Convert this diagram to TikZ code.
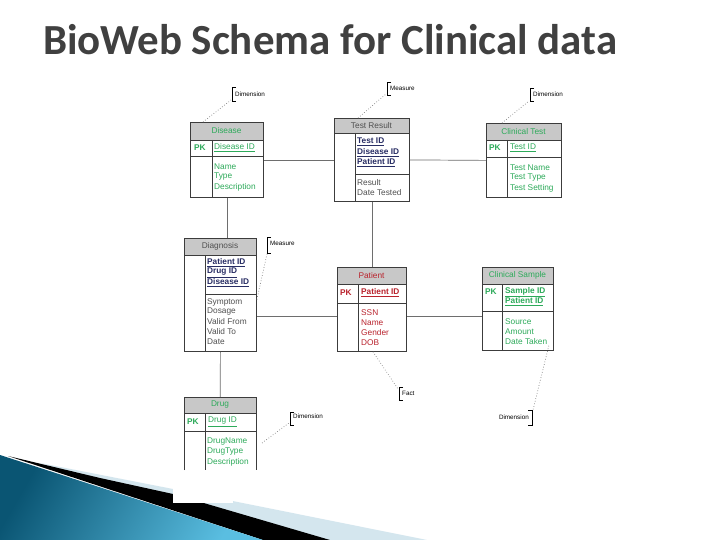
\documentclass[tikz,border=0pt]{standalone}
\usepackage{fontspec}
\setmainfont{Liberation Sans}
\newfontfamily\titlefont{Carlito}
\definecolor{boxc}{RGB}{60,60,60}
\definecolor{hdrc}{RGB}{200,200,200}
\definecolor{connc}{RGB}{110,110,110}
\definecolor{grn}{RGB}{45,170,90}
\definecolor{rd}{RGB}{185,35,45}
\definecolor{nvy}{RGB}{40,45,100}
\definecolor{gtx}{RGB}{80,80,80}
\definecolor{ttl}{RGB}{64,64,64}
\definecolor{decodark}{RGB}{10,85,115}
\definecolor{decolight}{RGB}{90,190,225}
\definecolor{decopale}{RGB}{212,230,238}
\tikzset{
  ebox/.style={draw=boxc, line width=0.8pt, inner sep=0pt, anchor=north west},
  bline/.style={draw=boxc, line width=0.8pt},
  txt/.style={anchor=west, inner sep=0pt, font=\fontsize{8.3}{10}\selectfont},
  htxt/.style={inner sep=0pt, font=\fontsize{8.3}{10}\selectfont},
  conn/.style={draw=connc, line width=0.7pt},
  dotc/.style={draw=gray, dotted, line width=0.7pt},
  brk/.style={draw=black, line width=0.5pt},
  ntxt/.style={anchor=west, inner sep=0pt, font=\fontsize{6.3}{7}\selectfont},
}
\begin{document}
\begin{tikzpicture}[x=1pt,y=-1pt]
\useasboundingbox (0,0) rectangle (720,540);
\fill[white] (0,0) rectangle (720,540);

% ---- decoration bottom-left
\fill[decopale] (40,463) -- (173,489) -- (427,540) -- (300,540) -- cycle;
\fill[black] (8,456) -- (100,478) -- (173,494) -- (330,540) -- (263,540) -- cycle;
\shade[left color=decodark, right color=decolight, shading angle=60] (0,455) -- (263,540) -- (0,540) -- cycle;
\fill[white] (173,488) rectangle (233,503);

% ---- title
\node[anchor=base west, inner sep=0pt, text=ttl] (title) at (43,55) {\resizebox{574pt}{!}{\titlefont\bfseries BioWeb Schema for Clinical data}};

% ---- Disease
\fill[hdrc] (190,122) rectangle (263,140);
\node[ebox, minimum width=73pt, minimum height=75pt] (disease) at (190,122) {};
\draw[bline] (190,140) -- (263,140) (190,156) -- (263,156) (212,140) -- (212,197);
\node[htxt, text=grn] at (226.5,131) {Disease};
\node[txt, text=grn, font=\fontsize{8.3}{10}\selectfont\bfseries] at (194,148) {PK};
\node[txt, text=grn] at (214,148) {\underline{Disease ID}};
\node[txt, text=grn] at (214,167) {Name};
\node[txt, text=grn] at (214,177) {Type};
\node[txt, text=grn] at (214,187) {Description};

% ---- Test Result
\fill[hdrc] (334,118) rectangle (409,133);
\node[ebox, minimum width=75pt, minimum height=83pt] (testresult) at (334,118) {};
\draw[bline] (334,133) -- (409,133) (355,174) -- (409,174) (355,133) -- (355,201);
\node[htxt, text=gtx] at (371.5,126) {Test Result};
\node[txt, text=nvy, font=\fontsize{8.3}{10}\selectfont\bfseries] at (357,142) {\underline{Test ID}};
\node[txt, text=nvy, font=\fontsize{8.3}{10}\selectfont\bfseries] at (357,152.5) {\underline{Disease ID}};
\node[txt, text=nvy, font=\fontsize{8.3}{10}\selectfont\bfseries] at (357,163) {\underline{Patient ID}};
\node[txt, text=gtx] at (357,183) {Result};
\node[txt, text=gtx] at (357,193) {Date Tested};

% ---- Clinical Test
\fill[hdrc] (486,123) rectangle (561,140);
\node[ebox, minimum width=75pt, minimum height=74pt] (clinicaltest) at (486,123) {};
\draw[bline] (486,140) -- (561,140) (486,157) -- (561,157) (507,140) -- (507,197);
\node[htxt, text=grn] at (523.5,132) {Clinical Test};
\node[txt, text=grn, font=\fontsize{8.3}{10}\selectfont\bfseries] at (489,148) {PK};
\node[txt, text=grn] at (510,148) {\underline{Test ID}};
\node[txt, text=grn] at (510,168) {Test Name};
\node[txt, text=grn] at (510,178) {Test Type};
\node[txt, text=grn] at (510,188) {Test Setting};

% ---- Diagnosis
\fill[hdrc] (184,238) rectangle (256,255);
\node[ebox, minimum width=72pt, minimum height=113pt] (diagnosis) at (184,238) {};
\draw[bline] (184,255) -- (256,255) (205,294) -- (256,294) (205,255) -- (205,351);
\node[htxt, text=gtx] at (220,246) {Diagnosis};
\node[txt, text=nvy, font=\fontsize{8.3}{10}\selectfont\bfseries] at (207,263) {\underline{Patient ID}};
\node[txt, text=nvy, font=\fontsize{8.3}{10}\selectfont\bfseries] at (207,273) {\underline{Drug ID}};
\node[txt, text=nvy, font=\fontsize{8.3}{10}\selectfont\bfseries] at (207,283) {\underline{Disease ID}};
\node[txt, text=gtx] at (207,302) {Symptom};
\node[txt, text=gtx] at (207,312) {Dosage};
\node[txt, text=gtx] at (207,322) {Valid From};
\node[txt, text=gtx] at (207,332) {Valid To};
\node[txt, text=gtx] at (207,342) {Date};

% ---- Patient
\fill[hdrc] (337,267) rectangle (406,284);
\node[ebox, minimum width=69pt, minimum height=84pt] (patient) at (337,267) {};
\draw[bline] (337,284) -- (406,284) (337,303) -- (406,303) (358,284) -- (358,351);
\node[htxt, text=rd] at (371.5,276) {Patient};
\node[txt, text=rd, font=\fontsize{8.3}{10}\selectfont\bfseries] at (340,293) {PK};
\node[txt, text=rd, font=\fontsize{8.3}{10}\selectfont\bfseries] at (361,293) {\underline{Patient ID}};
\node[txt, text=rd] at (361,313) {SSN};
\node[txt, text=rd] at (361,323) {Name};
\node[txt, text=rd] at (361,333) {Gender};
\node[txt, text=rd] at (361,343) {DOB};

% ---- Clinical Sample
\fill[hdrc] (482,267) rectangle (553,284);
\node[ebox, minimum width=71pt, minimum height=83pt] (clinicalsample) at (482,267) {};
\draw[bline] (482,284) -- (553,284) (482,311) -- (553,311) (502,284) -- (502,350);
\node[htxt, text=grn] at (517.5,275) {Clinical Sample};
\node[txt, text=grn, font=\fontsize{8.3}{10}\selectfont\bfseries] at (485,292) {PK};
\node[txt, text=grn, font=\fontsize{8.3}{10}\selectfont\bfseries] at (505,292) {\underline{Sample ID}};
\node[txt, text=grn, font=\fontsize{8.3}{10}\selectfont\bfseries] at (505,302) {\underline{Patient ID}};
\node[txt, text=grn] at (505,322) {Source};
\node[txt, text=grn] at (505,332) {Amount};
\node[txt, text=grn] at (505,342) {Date Taken};

% ---- Drug (cut at the bottom)
\fill[hdrc] (184,397) rectangle (256,413);
\node[inner sep=0pt, anchor=north west, minimum width=72pt, minimum height=73pt] (drug) at (184,397) {};
\draw[bline] (184,470) -- (184,397) -- (256,397) -- (256,470)
             (184,413) -- (256,413) (184,431) -- (256,431) (205,413) -- (205,470);
\node[htxt, text=grn] at (220,405) {Drug};
\node[txt, text=grn, font=\fontsize{8.3}{10}\selectfont\bfseries] at (187,422) {PK};
\node[txt, text=grn] at (208,422) {\underline{Drug ID}};
\node[txt, text=grn] at (207,442) {DrugName};
\node[txt, text=grn] at (207,452) {DrugType};
\node[txt, text=grn] at (207,462) {Description};

% ---- relationship connectors
\coordinate (row) at (0,316);
\draw[conn] (disease.south) -- (disease.south |- diagnosis.north);
\draw[conn] (disease.east) -- (testresult.west);
\draw[conn] (testresult.east) -- (clinicaltest.west);
\draw[conn] (testresult.south) -- (testresult.south |- patient.north);
\draw[conn] (diagnosis.east |- row) -- (patient.west |- row);
\draw[conn] (patient.east |- row) -- (clinicalsample.west |- row);
\draw[conn] (diagnosis.south) -- (drug.north);

% ---- annotation notes
\node[ntxt] (n1) at (235,94) {Dimension};
\draw[brk] (236,87) -- (232,87) -- (232,101) -- (236,101);
\draw[dotc] ([xshift=13pt]disease.north west) -- (231,100);
\node[ntxt] (n2) at (390,88) {Measure};
\draw[brk] (391,82) -- (387,82) -- (387,95) -- (391,95);
\draw[dotc] ([xshift=24pt]testresult.north west) -- (386,94);
\node[ntxt] (n3) at (533,94) {Dimension};
\draw[brk] (534,88) -- (530,88) -- (530,101) -- (534,101);
\draw[dotc] ([xshift=16pt]clinicaltest.north west) -- (529,101);
\node[ntxt] (n4) at (270,243) {Measure};
\draw[brk] (271,237) -- (267,237) -- (267,253) -- (271,253);
\draw[dotc] (267,254) -- ([yshift=-62pt]diagnosis.north east);
\node[ntxt] (n5) at (402,393) {Fact};
\draw[brk] (403,387) -- (399,387) -- (399,400) -- (403,400);
\draw[dotc] ([xshift=36pt]patient.south west) -- (398,389);
\node[ntxt, anchor=east] (n6) at (529,417) {Dimension};
\draw[brk] (528,410) -- (532,410) -- (532,425) -- (528,425);
\draw[dotc] ([xshift=-5pt,yshift=5pt]clinicalsample.south east) -- (533,410);
\node[ntxt] (n7) at (293,416) {Dimension};
\draw[brk] (294,412) -- (290,412) -- (290,425) -- (294,425);
\draw[dotc] (262,443) -- (289,423);
\end{tikzpicture}
\end{document}
